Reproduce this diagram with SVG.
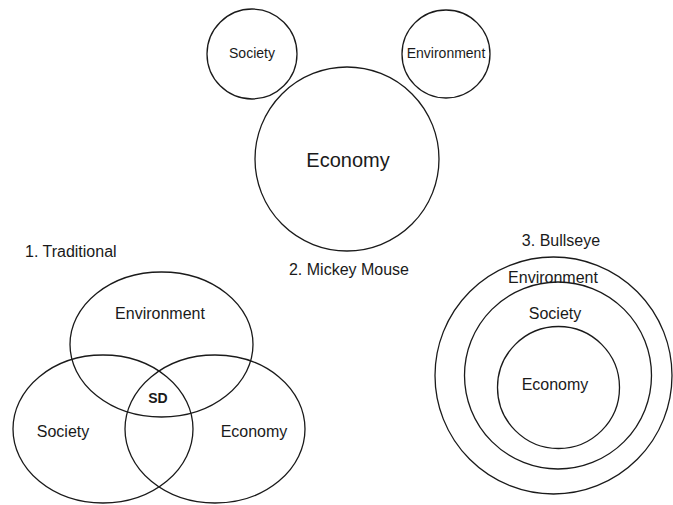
<svg xmlns="http://www.w3.org/2000/svg" width="673" height="505" viewBox="0 0 673 505">
  <style>
    .shape { fill: none; stroke: #1a1a1a; stroke-width: 1.3; }
    .lbl { font-family: "Liberation Sans", Arial, sans-serif; font-size: 16px; fill: #1a1a1a; text-anchor: middle; }
    .small { font-size: 14px; }
    .big { font-size: 20px; }
    .bold { font-weight: bold; font-size: 14px; }
    .cap { text-anchor: start; }
  </style>
  <rect width="673" height="505" fill="#ffffff"/>

  <!-- Model 2: Mickey Mouse -->
  <g id="mickey-society">
    <circle class="shape" cx="252" cy="54" r="45"/>
    <text class="lbl small" x="252" y="58">Society</text>
  </g>
  <g id="mickey-environment">
    <circle class="shape" cx="446" cy="54" r="44"/>
    <text class="lbl small" x="446" y="58">Environment</text>
  </g>
  <g id="mickey-economy">
    <circle class="shape" cx="347" cy="159" r="92"/>
    <text class="lbl big" x="348" y="167">Economy</text>
  </g>
  <text id="mickey-caption" class="lbl" x="349" y="275">2. Mickey Mouse</text>

  <!-- Model 1: Traditional three-circle Venn -->
  <text id="traditional-caption" class="lbl cap" x="25" y="257">1. Traditional</text>
  <g id="trad-environment">
    <ellipse class="shape" cx="161.5" cy="344.5" rx="91.5" ry="72.5"/>
    <text class="lbl" x="160" y="319">Environment</text>
  </g>
  <g id="trad-society">
    <ellipse class="shape" cx="103" cy="429" rx="90" ry="74"/>
    <text class="lbl" x="63" y="437">Society</text>
  </g>
  <g id="trad-economy">
    <ellipse class="shape" cx="215" cy="429" rx="90" ry="74"/>
    <text class="lbl" x="254" y="437">Economy</text>
  </g>
  <text id="trad-sd" class="lbl bold" x="158" y="403">SD</text>

  <!-- Model 3: Bullseye -->
  <text id="bullseye-caption" class="lbl" x="561" y="246">3. Bullseye</text>
  <g id="bull-environment">
    <circle class="shape" cx="553.5" cy="375.5" r="118.5"/>
    <text class="lbl" x="553" y="283">Environment</text>
  </g>
  <g id="bull-society">
    <circle class="shape" cx="558" cy="375.5" r="93.5"/>
    <text class="lbl" x="555" y="319">Society</text>
  </g>
  <g id="bull-economy">
    <circle class="shape" cx="558.5" cy="387.5" r="61"/>
    <text class="lbl" x="555" y="390">Economy</text>
  </g>
</svg>
